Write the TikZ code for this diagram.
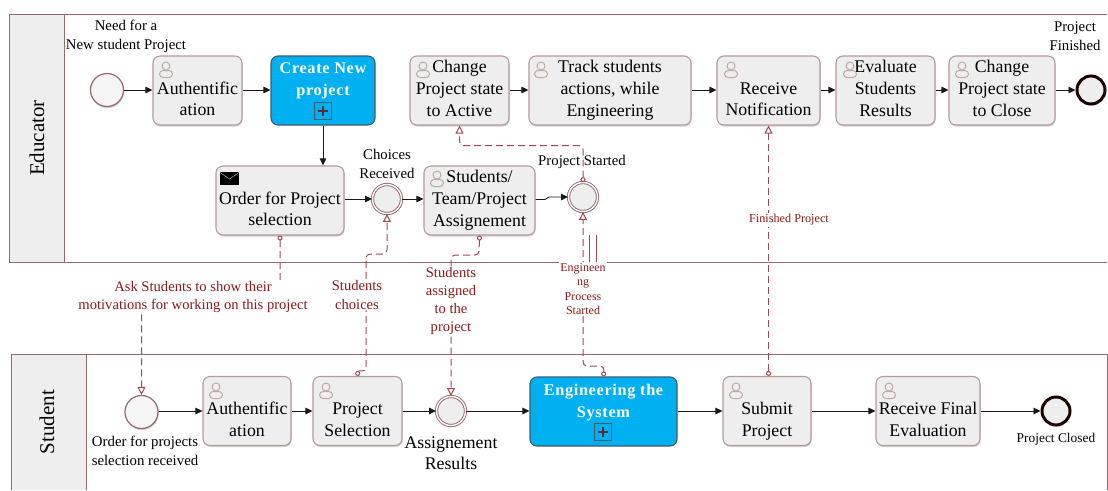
\documentclass[tikz,border=0pt]{standalone}
\usepackage{fontspec}
\setmainfont{Liberation Serif}
\newfontfamily\spacedbold[LetterSpace=4,Ligatures=NoCommon]{Liberation Serif Bold}
\usetikzlibrary{arrows.meta,shadows,calc}
\definecolor{lanecol}{HTML}{96696C}
\definecolor{taskedge}{HTML}{B59A9A}
\definecolor{taskfill}{HTML}{EFEEEE}
\definecolor{iconcol}{HTML}{BFA8A8}
\definecolor{msgcol}{HTML}{A0474F}
\definecolor{msgtext}{HTML}{8B1A1A}
\definecolor{subblue}{HTML}{00B0F0}
\definecolor{subedge}{HTML}{3F5B6E}
\definecolor{pluscol}{HTML}{5A2A35}
\newcommand{\blankrow}{\rule[-4pt]{0pt}{15pt}}
\tikzset{
  softshadow/.style={drop shadow={shadow xshift=0.6pt,shadow yshift=-1.6pt,opacity=.3,fill=black!60}},
  lanehead/.style={draw=lanecol,line width=1pt,fill=taskfill},
  laneline/.style={draw=lanecol,line width=1pt},
  lanetitle/.style={rotate=90,font=\fontsize{21}{24}\selectfont,text=black},
  taskbox/.style={draw=taskedge,line width=1.1pt,fill=taskfill,rounded corners=7pt,minimum height=69pt,inner sep=0pt,align=center,font=\fontsize{17.8}{21.7}\selectfont,softshadow,
    execute at begin node={\rule{0pt}{14pt}},execute at end node={\rule[-4pt]{0pt}{4pt}}},
  subbox/.style={draw=subedge,line width=1.1pt,fill=subblue,rounded corners=7pt,minimum height=69pt,inner sep=0pt,align=center,text=white,font=\fontsize{16.3}{22}\spacedbold,
    execute at begin node={\rule{0pt}{17pt}}},
  startev/.style={circle,draw=lanecol,line width=1.2pt,fill=taskfill!60,minimum size=33pt,inner sep=0pt,softshadow},
  midev/.style={circle,draw=lanecol,line width=0.9pt,double=white,double distance=1.4pt,fill=taskfill,minimum size=29pt,inner sep=0pt,softshadow},
  endev/.style={circle,draw=black!90!red,line width=3pt,fill=taskfill,minimum size=28pt,inner sep=0pt,softshadow},
  evlabel/.style={align=center,inner sep=0pt,font=\fontsize{14.8}{18.5}\selectfont},
  flow/.style={-{Triangle[length=7pt,width=6.5pt]},line width=0.9pt,black!90},
  msg/.style={{Circle[open,length=5pt,width=5pt,fill=white]}-{Triangle[open,length=8pt,width=8pt,fill=white]},draw=msgcol,line width=1pt,dash pattern=on 7pt off 4pt,rounded corners=4pt},
  msglabel/.style={fill=white,align=center,inner sep=1pt,text=msgtext,font=\fontsize{14.6}{18.2}\selectfont},
  usericon/.pic={
    \draw[iconcol,line width=1pt,fill=taskfill,rounded corners=3.5pt] (-6.5,-0.5) rectangle (6.5,6.5);
    \draw[iconcol,line width=1pt,fill=taskfill] (0,-5) circle[radius=4pt];
  },
  plusmark/.pic={
    \draw[subedge,line width=1.2pt] (-8.5,-8.5) rectangle (8.5,8.5);
    \draw[pluscol,line width=2.2pt] (-5,0) -- (5,0) (0,-5) -- (0,5);
  }
}
\begin{document}
\begin{tikzpicture}[x=1pt,y=-1pt]
\useasboundingbox (0,0) rectangle (1108,490);
% lanes
\draw[laneline] (1107,14) -- (9,14) -- (9,262) -- (1107,262);
\draw[lanehead] (9,14) rectangle (64,262);
\node[lanetitle] (educator) at (37,138) {Educator};
\draw[laneline] (11,490) -- (11,354) -- (1107,354) -- (1107,490);
\draw[lanehead] (11,490) -- (11,354) -- (86,354) -- (86,490);
\node[lanetitle] (student) at (47,422) {Student};
% educator lane
\node[startev] (s1) at (107,90) {};
\node[taskbox,minimum width=89pt] (auth1) at (197.5,90.5) {\blankrow\\Authentific\\ation};
\node[subbox,minimum width=104pt] (create) at (323,90.5) {Create New\\project\\\mbox{}};
\node[taskbox,minimum width=128pt] (order) at (280,200.5) {\blankrow\\Order for Project\\selection};
\node[midev] (choices) at (387,199) {};
\node[taskbox,minimum width=111pt] (assign) at (479.5,200.5) {Students/\\Team/Project\\Assignement};
\node[midev] (started) at (583,197) {};
\node[taskbox,minimum width=99pt] (active) at (459.5,90.5) {Change\\Project state\\to Active};
\node[taskbox,minimum width=162pt] (track) at (610,90.5) {Track students\\actions, while\\Engineering};
\node[taskbox,minimum width=103pt] (notif) at (768.5,90.5) {\blankrow\\Receive\\Notification};
\node[taskbox,minimum width=99pt] (eval) at (885.5,90.5) {Evaluate\\Students\\Results};
\node[taskbox,minimum width=106pt] (close) at (1002,90.5) {Change\\Project state\\to Close};
\node[endev] (e1) at (1091,90) {};
% student lane
\node[startev] (s2) at (141.5,412) {};
\node[taskbox,minimum width=88pt] (auth2) at (247,411) {\blankrow\\Authentific\\ation};
\node[taskbox,minimum width=89pt] (select) at (357.5,411) {\blankrow\\Project\\Selection};
\node[midev] (result) at (451,411) {};
\node[subbox,minimum width=147pt] (eng) at (603.5,411.5) {Engineering the\\System\\\mbox{}};
\node[taskbox,minimum width=88pt] (submit) at (767,411) {\blankrow\\Submit\\Project};
\node[taskbox,minimum width=104pt] (final) at (928,411) {\blankrow\\Receive Final\\Evaluation};
\node[endev] (e2) at (1056,411) {};
% icons
\foreach \ix/\iy in {166/71,423/71,541/71,731/71,850/71,962/71,437/180,216/392,326/392,736/392,889/392}{
  \pic at (\ix,\iy) {usericon};
}
\pic at (323,111) {plusmark};
\pic at (603,432) {plusmark};
\fill[black] (220,172) rectangle (239,185);
\draw[white!70!black,line width=0.5pt] (220,172.5) -- (229.5,179) -- (239,172.5);
% sequence flows
\draw[flow] (s1) -- (auth1.west |- s1);
\draw[flow] (auth1.east |- s1) -- (create.west |- s1);
\draw[flow] (create) -- (order.north -| create);
\draw[flow] (order.east |- choices) -- (choices);
\draw[flow] (choices) -- (assign.west |- choices);
\coordinate (jog1) at (545,199.5);
\coordinate (jog2) at (549,197);
\draw[flow] (assign.east |- jog1) -- (jog1) -- (jog2) -- (started);
\draw[flow] (active.east |- s1) -- (track.west |- s1);
\draw[flow] (track.east |- s1) -- (notif.west |- s1);
\draw[flow] (notif.east |- s1) -- (eval.west |- s1);
\draw[flow] (eval.east |- s1) -- (close.west |- s1);
\draw[flow] (close.east |- s1) -- (e1);
\draw[flow] (s2.east |- result) -- (auth2.west);
\draw[flow] (auth2.east) -- (select.west);
\draw[flow] (select.east) -- (result);
\draw[flow] (result) -- (eng.west |- result);
\draw[flow] (eng.east |- result) -- (submit.west);
\draw[flow] (submit.east) -- (final.west);
\draw[flow] (final.east) -- (e2);
% multi-instance ticks
\coordinate (t1a) at (589,235);
\coordinate (t1b) at (589,262);
\coordinate (t2a) at (596,235);
\coordinate (t2b) at (596,262);
\draw[msgcol,line width=0.7pt] (t1a) -- (t1b) (t2a) -- (t2b);
% message flows
\coordinate (m1a) at (280,297);
\coordinate (m1b) at (141.5,297);
\draw[msg] (order.south) -- (m1a) -- (m1b) -- (s2.north);
\coordinate (m2a) at (366,365);
\coordinate (m2b) at (366,254);
\coordinate (m2c) at (387,254);
\draw[msg] (select.north) .. controls (358,370) and (366,372) .. (m2a) -- (m2b) -- (m2c) -- (choices.south);
\coordinate (m3a) at (479,255);
\coordinate (m3b) at (451,255);
\draw[msg] (assign.south) -- (m3a) -- (m3b) -- (result.north);
\coordinate (m4a) at (604,366);
\coordinate (m4b) at (583,366);
\draw[msg] (eng.north) -- (m4a) -- (m4b) -- (started.south);
\coordinate (m5a) at (583,145.5);
\coordinate (m5b) at (459.5,145.5);
\draw[msg] (started.north) -- (m5a) -- (m5b) -- (active.south);
\draw[msg] (submit.north -| notif) -- (notif.south);
% message labels
\node[msglabel] (l1) at (193,297) {Ask Students to show their\\motivations for working on this project};
\node[msglabel] (l2) at (357,295) {Students\\choices};
\node[msglabel] (l3) at (451,301) {Students\\assigned\\to the\\project};
\node[msglabel,font=\fontsize{12}{14.5}\selectfont] (l4) at (583,289) {Engineen\\ng\\Process\\Started};
\node[msglabel,font=\fontsize{12.2}{13}\selectfont] (l5) at (789,220) {Finished Project};
% event labels
\node[evlabel] (t1) at (126,36.5) {Need for a\\New student Project};
\node[evlabel] (t2) at (387,164) {Choices\\Received};
\node[evlabel] (t3) at (582,161.5) {Project Started};
\node[evlabel] (t4) at (1075,36) {Project\\Finished};
\node[evlabel] (t5) at (145,451) {Order for projects\\selection received};
\node[evlabel,font=\fontsize{17.8}{21}\selectfont] (t6) at (451,453) {Assignement\\Results};
\node[evlabel,font=\fontsize{13.4}{18}\selectfont] (t7) at (1056,439) {Project Closed};
\end{tikzpicture}
\end{document}
